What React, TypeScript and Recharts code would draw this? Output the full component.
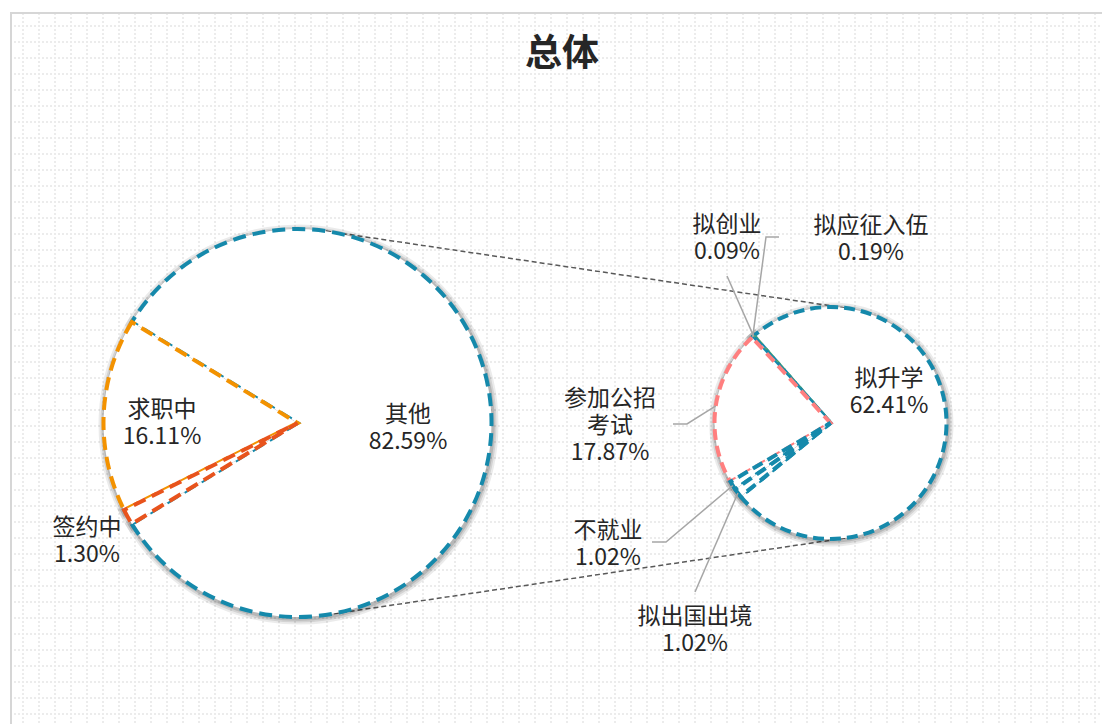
import React from "react";
import { PieChart, Pie, Cell } from "recharts";

// 第一饼：总体去向
const mainNames = ["其他", "求职中", "签约中"];
const mainValues = [82.59, 16.11, 1.3];

// 第二饼：“其他”的拆分
const subNames = ["拟升学", "拟创业", "拟应征入伍", "参加公招考试", "不就业", "拟出国出境"];
const subValues = [62.41, 0.09, 0.19, 17.87, 1.02, 1.02];

const titleText = "总体";

const mainColors = ["#1589ab", "#f39200", "#e8531c"];
const subColors = ["#1589ab", "#5aa86a", "#1589ab", "#ff7f7f", "#1589ab", "#1589ab"];

const mainData = mainNames.map((name, i) => ({ name, value: mainValues[i] }));
const subData = subNames.map((name, i) => ({ name, value: subValues[i] }));

const FONT = '"Noto Sans CJK SC", "Microsoft YaHei", sans-serif';
const MAIN = { cx: 297.5, cy: 423, r: 194 };
const SUB = { cx: 830.5, cy: 423, r: 116 };

// soft shadow rings drawn under each pie (svg filters don't render here)
const HALO = [
  { w: 12, o: 0.08 },
  { w: 8, o: 0.1 },
  { w: 4.5, o: 0.13 },
];

// "其他" centred on the right, the rest opens to the left
const mainTotal = mainValues.reduce((a, b) => a + b, 0);
const mainStart = -(mainValues[0] / mainTotal) * 180;
const subStart = -140.7;

type Spot = { x: number; y: number; lines?: string[]; leader?: [number, number][] };
const labelSpots: Record<string, Spot> = {
  其他: { x: 408, y: 412 },
  求职中: { x: 162, y: 407 },
  签约中: { x: 87, y: 525 },
  拟升学: { x: 889, y: 376 },
  拟创业: { x: 727, y: 222, leader: [[727, 276]] },
  拟应征入伍: { x: 871, y: 223, leader: [[779, 237], [766, 237]] },
  参加公招考试: { x: 610, y: 396, lines: ["参加公招", "考试"], leader: [[673, 424], [687, 424]] },
  不就业: { x: 608, y: 528, leader: [[652, 542], [666, 542]] },
  拟出国出境: { x: 695, y: 614, leader: [[695, 592]] },
};

const renderLabel = (props: any) => {
  const { cx, cy, midAngle, outerRadius, value, payload } = props;
  const name = payload?.name ?? props.name;
  const spot = labelSpots[name];
  if (!spot) return null;
  const lines = [...(spot.lines ?? [name]), `${Number(value).toFixed(2)}%`];
  const rad = (-midAngle * Math.PI) / 180;
  const ex = cx + outerRadius * Math.cos(rad);
  const ey = cy + outerRadius * Math.sin(rad);
  return (
    <g key={`label-${name}`}>
      {spot.leader && (
        <polyline
          points={[...spot.leader, [ex, ey]].map((p) => p.join(",")).join(" ")}
          fill="none"
          stroke="#a6a6a6"
          strokeWidth={1.5}
        />
      )}
      {lines.map((t, i) => (
        <text
          key={i}
          x={spot.x}
          y={spot.y + i * 27}
          textAnchor="middle"
          dominantBaseline="central"
          fontFamily={FONT}
          fontSize={23}
          fill="#262626"
        >
          {t}
        </text>
      ))}
    </g>
  );
};

// outer tangent lines between the two pies
function tangentPoints(sign: number) {
  const d = SUB.cx - MAIN.cx;
  const t = Math.acos((MAIN.r - SUB.r) / d) * sign;
  return {
    x1: MAIN.cx + MAIN.r * Math.cos(t),
    y1: MAIN.cy - MAIN.r * Math.sin(t),
    x2: SUB.cx + SUB.r * Math.cos(t),
    y2: SUB.cy - SUB.r * Math.sin(t),
  };
}

const gridTile =
  "data:image/svg+xml;utf8," +
  encodeURIComponent(
    `<svg xmlns='http://www.w3.org/2000/svg' width='16' height='16'>` +
      [0, 4, 8, 12].map((x) => `<rect x='${x}' y='0' width='2' height='2' fill='#ececec'/>`).join("") +
      [4, 8, 12].map((y) => `<rect x='0' y='${y}' width='2' height='2' fill='#ececec'/>`).join("") +
      `</svg>`
  );

function haloPies(data: { name: string; value: number }[], geo: typeof MAIN, start: number, key: string) {
  return HALO.map((h, k) => (
    <Pie
      key={`${key}-halo-${k}`}
      data={data}
      dataKey="value"
      cx={geo.cx + 1}
      cy={geo.cy + 1.5}
      outerRadius={geo.r}
      startAngle={start}
      endAngle={start + 360}
      fill="none"
      stroke="#000"
      strokeWidth={h.w}
      strokeOpacity={h.o}
      label={false}
      labelLine={false}
      isAnimationActive={false}
    >
      {data.map((d) => (
        <Cell key={d.name} fill="none" stroke="#000" strokeWidth={h.w} strokeOpacity={h.o} />
      ))}
    </Pie>
  ));
}

export default function App() {
  const top = tangentPoints(1);
  const bottom = tangentPoints(-1);
  return (
    <div style={{ position: "absolute", left: 0, top: 0, width: 1102, height: 724, overflow: "hidden" }}>
      <div
        style={{
          position: "absolute",
          left: 10,
          top: 12,
          width: 1092,
          height: 712,
          boxSizing: "border-box",
          borderTop: "2px solid #d6d6d6",
          borderLeft: "2px solid #d6d6d6",
          background: `#fff url("${gridTile}")`,
          backgroundPosition: "10px 11px",
        }}
      />
      <div
        style={{
          position: "absolute",
          left: 462,
          top: 25,
          width: 200,
          height: 50,
          lineHeight: "50px",
          textAlign: "center",
          fontFamily: FONT,
          fontWeight: 700,
          fontSize: 37,
          color: "#262626",
        }}
      >
        {titleText}
      </div>
      <svg width={1102} height={724} style={{ position: "absolute", left: 0, top: 0 }}>
        {[top, bottom].map((l, i) => (
          <line key={i} {...l} stroke="#595959" strokeWidth={1.5} strokeDasharray="5 3" />
        ))}
      </svg>
      <div style={{ position: "absolute", left: 0, top: 0 }}>
        <PieChart width={1102} height={724} margin={{ top: 0, right: 0, bottom: 0, left: 0 }}>
          {haloPies(mainData, MAIN, mainStart, "main")}
          {haloPies(subData, SUB, subStart, "sub")}
          <Pie
            data={mainData}
            dataKey="value"
            nameKey="name"
            cx={MAIN.cx}
            cy={MAIN.cy}
            outerRadius={MAIN.r}
            startAngle={mainStart}
            endAngle={mainStart + 360}
            label={renderLabel}
            labelLine={false}
            isAnimationActive={false}
          >
            {mainData.map((d, i) => (
              <Cell key={d.name} fill="#ffffff" stroke={mainColors[i]} strokeWidth={4} strokeDasharray="13 7" />
            ))}
          </Pie>
          <Pie
            data={subData}
            dataKey="value"
            nameKey="name"
            cx={SUB.cx}
            cy={SUB.cy}
            outerRadius={SUB.r}
            startAngle={subStart}
            endAngle={subStart + 360}
            label={renderLabel}
            labelLine={false}
            isAnimationActive={false}
          >
            {subData.map((d, i) => (
              <Cell key={d.name} fill="#ffffff" stroke={subColors[i]} strokeWidth={4} strokeDasharray="11 6" />
            ))}
          </Pie>
        </PieChart>
      </div>
    </div>
  );
}
